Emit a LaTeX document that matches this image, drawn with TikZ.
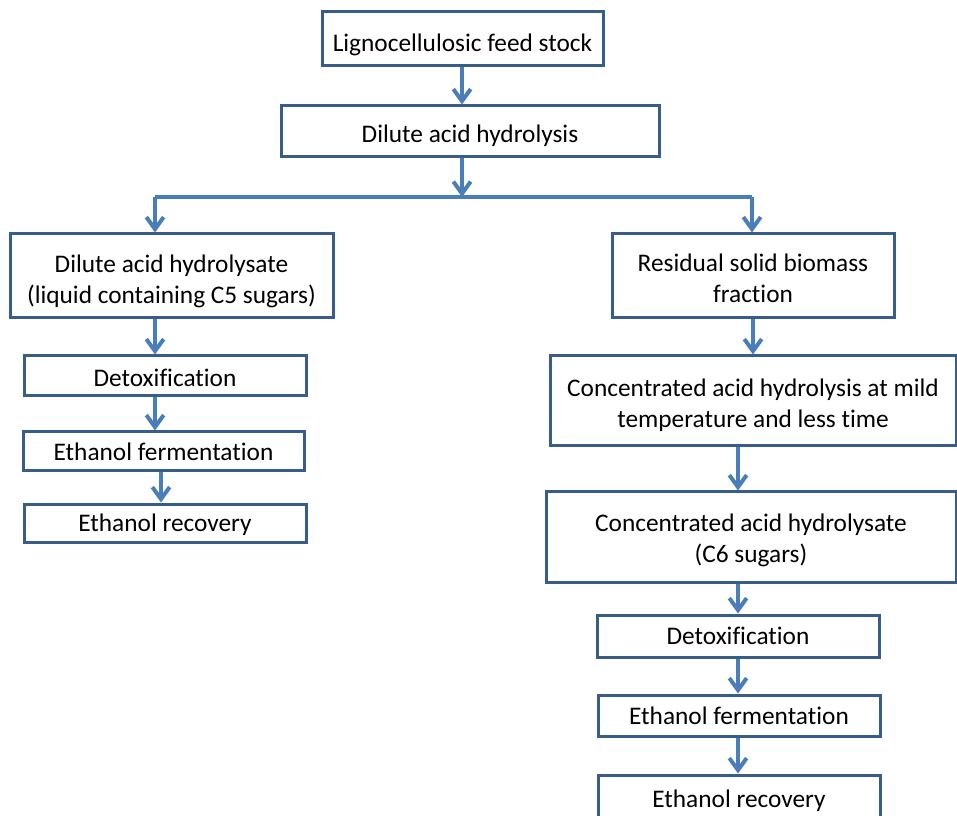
\documentclass[tikz,border=0pt]{standalone}
\usepackage{fontspec}
\setmainfont{Carlito}[Ligatures=NoCommon]
\usetikzlibrary{arrows.meta}

\definecolor{boxblue}{RGB}{56,93,138}
\definecolor{arrowblue}{RGB}{74,126,187}

\tikzset{
    box/.style={draw=boxblue, line width=2.25pt, inner sep=0pt, align=center,
        font=\fontsize{19}{23.25}\selectfont},
    % lowers the text a little inside its box
    drop/.style={execute at begin node={\rule{0pt}{#1}}},
    flow/.style={draw=arrowblue, line width=3pt,
        -{Straight Barb[length=9pt,width=13pt]}},
    bar/.style={draw=arrowblue, line width=3pt}
}

\begin{document}
\begin{tikzpicture}[x=0.75pt,y=0.75pt,yscale=-1,xscale=1]
    \useasboundingbox (0,0) rectangle (957,816);
    % Top boxes
    \node[box, drop=22.5pt, minimum width=210.75pt, minimum height=40.5pt] (feed) at (462.5,39) {Lignocellulosic feed stock};
    \node[box, drop=19.5pt, minimum width=283.5pt, minimum height=38.25pt] (dah) at (470,131.5) {Dilute acid hydrolysis};
    % Left branch
    \node[box, drop=45pt, minimum width=242.25pt, minimum height=63pt] (liq) at (171.5,276) {Dilute acid hydrolysate\\(liquid containing C5 sugars)};
    \node[box, drop=16.5pt, minimum width=211.5pt, minimum height=30pt] (detoxL) at (165,376) {Detoxification};
    \node[box, minimum width=210.75pt, minimum height=29.25pt] (fermL) at (163.5,451.5) {Ethanol fermentation};
    \node[box, drop=16.5pt, minimum width=211.5pt, minimum height=28.5pt] (recL) at (165,523) {Ethanol recovery};
    % Right branch
    \node[box, drop=40.5pt, minimum width=211.5pt, minimum height=63pt] (solid) at (753,276) {Residual solid biomass\\fraction};
    \node[box, drop=42.75pt, minimum width=304.5pt, minimum height=67.5pt] (cah) at (753,401) {Concentrated acid hydrolysis at mild\\temperature and less time};
    \node[box, drop=41.25pt, minimum width=307.5pt, minimum height=67.5pt] (cahs) at (751,537) {Concentrated acid hydrolysate\\(C6 sugars)};
    \node[box, minimum width=211.5pt, minimum height=31.5pt] (detoxR) at (738,636) {Detoxification};
    \node[box, minimum width=211.5pt, minimum height=30.75pt] (fermR) at (739,715.5) {Ethanol fermentation};
    \node[box, minimum width=211.5pt, minimum height=39pt] (recR) at (739,801) {Ethanol recovery};

    % split line
    \coordinate (sl) at (155,197);
    \coordinate (sr) at (752,197);
    \coordinate (sm) at (462,197);

    %Straight Lines
    \draw[flow] (feed.south -| sm) -- (dah.north -| sm);
    \draw[flow] (dah.south -| sm) -- (sm);
    \draw[bar] (sl) -- (sr);
    \draw[flow] (sl) -- (liq.north -| sl);
    \draw[flow] (sr) -- (solid.north -| sr);
    % left column
    \draw[flow] (liq.south -| sl) -- (detoxL.north -| sl);
    \draw[flow] (detoxL.south -| sl) -- (fermL.north -| sl);
    \draw[flow] ([xshift=4.5pt]fermL.south -| sl) -- ([xshift=4.5pt]recL.north -| sl);
    % right column
    \draw[flow] (solid.south) -- (cah.north -| solid.south);
    \draw[flow] (cah.south -| detoxR) -- (cahs.north -| detoxR);
    \draw[flow] (cahs.south -| detoxR) -- (detoxR.north);
    \draw[flow] (detoxR.south) -- (fermR.north -| detoxR);
    \draw[flow] (fermR.south -| detoxR) -- (recR.north -| detoxR);
\end{tikzpicture}
\end{document}
